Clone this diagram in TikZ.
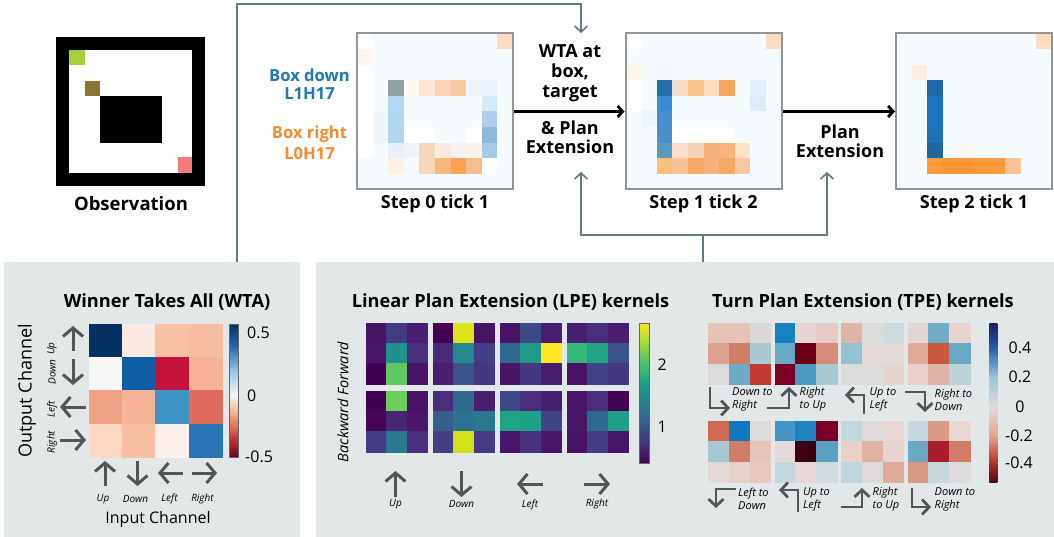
\documentclass[tikz,border=0pt]{standalone}
\usepackage{fontspec}
\setmainfont{Open Sans}
\usetikzlibrary{arrows.meta}
\definecolor{fbc}{HTML}{5E7C82}
\definecolor{agray}{HTML}{555555}
\definecolor{bgray}{HTML}{8E9898}
\definecolor{panelbg}{HTML}{E1E8E7}
\definecolor{tblue}{HTML}{1F77B4}
\definecolor{torange}{HTML}{F58A2E}
\definecolor{gridbg}{HTML}{F6FBFE}
\definecolor{obsgreen}{HTML}{A6D13A}
\definecolor{obsolive}{HTML}{8A7535}
\definecolor{obspink}{HTML}{F47C7C}
\newcommand\hmap[5]{%
  \foreach \hc [count=\hk from 0] in {#5}{%
    \pgfmathtruncatemacro\hmR{\hk/#4}%
    \pgfmathtruncatemacro\hmC{\hk-\hmR*#4}%
    \definecolor{hmc}{HTML}{\hc}%
    \fill[hmc,draw=hmc,line width=0.3pt] ({#1+\hmC*#3},{#2+\hmR*#3}) rectangle ++(#3,#3);
  }}
\newcommand\sgrid[3]{%
  \fill[gridbg] (#1,#2) rectangle ++(156,156);
  \foreach \ca/\cb/\ch in {#3}{%
    \definecolor{hmc}{HTML}{\ch}%
    \fill[hmc] ({#1+\ca*15.6},{#2+\cb*15.6}) rectangle ++(15.6,15.6);
  }}
\newcommand\cbar[3]{%
  \foreach \ya/\yb/\ta/\tb in {#3}{%
    \definecolor{cbt}{HTML}{\ta}\definecolor{cbb}{HTML}{\tb}%
    \shade[top color=cbt,bottom color=cbb] (#1,\ya) rectangle ({#1+#2},{\yb+0.4});
  }}
\begin{document}
\begin{tikzpicture}[x=1pt,y=-1pt,
  stepbox/.style={draw=bgray,line width=2pt,minimum size=156pt,inner sep=0pt},
  panel/.style={fill=panelbg,inner sep=0pt,anchor=north west},
  lbl/.style={font=\fontsize{18}{20}\selectfont\bfseries,inner sep=0pt,align=center},
  ttl/.style={font=\fontsize{18.2}{20}\selectfont\bfseries,inner sep=0pt},
  itl/.style={font=\fontsize{10}{12}\selectfont\itshape,inner sep=0pt},
  til/.style={font=\fontsize{11}{13}\selectfont\itshape,inner sep=0pt,anchor=west,align=left},
  cbl/.style={font=\fontsize{16}{18}\selectfont,inner sep=0pt},
  dira/.style={draw=agray,line width=3pt,-{Straight Barb[length=8.5pt,width=20pt]}},
  turna/.style={draw=agray,line width=2.8pt,line join=miter,-{Straight Barb[length=7pt,width=15pt]}},
  fbl/.style={draw=fbc,line width=1.6pt},
  fba/.style={fbl,-{Straight Barb[length=6pt,width=13pt]}},
  blk/.style={draw=black,line width=2.8pt,-{Straight Barb[length=5pt,width=11pt]}},
]
\useasboundingbox (0,0) rectangle (1054,537);
\fill[white] (0,0) rectangle (1054,537);

% panels
\node[panel,minimum width=296pt,minimum height=275pt] (wtap) at (4,262) {};
\node[panel,minimum width=738pt,minimum height=275pt] (kp) at (316,262) {};

% observation
\fill[white] (69,50) rectangle (193,173);
\fill[obsgreen] (69,50) rectangle ++(15.5,15.5);
\fill[obsolive] (84.5,81) rectangle ++(15.5,15.5);
\fill[black] (100,96.5) rectangle (162,143);
\fill[obspink] (177.5,157.5) rectangle (193,173);
\node[draw=black,line width=13pt,minimum size=136pt,inner sep=0pt] (obs) at (130.5,111.5) {};
\node[lbl,font=\fontsize{18.5}{20}\selectfont\bfseries] (obsl) at (131,204) {Observation};

% step grids
\sgrid{357}{33.5}{9/0/FDDCBF,0/1/FEF5EE,2/2/F7F9FC,2/3/93A3A3,3/3/FDFAF5,4/3/FDE6D3,5/3/FBD3B4,6/3/F9C9A4,7/3/EEF4FA,8/3/EAF3FB,
2/4/B3D8F8,8/4/D4E8F7,1/5/EEF7FC,2/5/B3D5F0,8/5/AECEEB,1/6/EEF7FC,2/6/B3D5F0,3/6/FFFFFF,4/6/FFFFFF,7/6/FFFFFF,8/6/8CB9DC,
2/7/E8F1FA,3/7/EEF3F8,4/7/F6D5BE,5/7/FCEADF,6/7/F5F3F3,7/7/FDF3EA,8/7/A9CAE4,2/8/FEF1E5,4/8/F8D6BA,5/8/FBB67E,6/8/FBA352,7/8/F5BE8E,8/8/FFFFFF,
0/0/FFFFFF,0/2/FFFFFF,0/3/FFFFFF,0/4/FFFFFF,0/5/FFFFFF,0/6/FFFFFF,0/7/FFFFFF}
\sgrid{625.5}{33.5}{9/0/FDDCBF,0/2/FEF6EC,2/2/F2F7FC,2/3/1F6FAE,3/3/F5DCC6,4/3/FBC592,5/3/FCDCC1,6/3/F5A55F,7/3/F7F9FC,8/3/E0F2FD,
2/4/3A8AD6,8/4/DBEDFC,1/5/EEF6FB,2/5/4690D0,2/6/4A8ECE,3/6/FFFFFF,4/6/FFFFFF,5/6/FFFFFF,6/6/FFFFFF,
2/7/5B9BBF,3/7/F8DDCA,4/7/F6D1B4,5/7/F5B27A,6/7/F8B57C,7/7/FDE2C6,
2/8/FDC07A,3/8/F9C296,4/8/F9A964,5/8/F6B27C,6/8/F6A866,7/8/F9C8A0,0/0/FFFFFF,0/3/FFFFFF,0/4/FFFFFF}
\sgrid{896}{33.5}{9/0/FDDCBF,1/2/FDEEE3,2/3/1E69AC,2/4/1B74C2,2/5/1B74C2,2/6/1E70B8,2/7/22669F,4/7/FDF6F1,
2/8/FD9A3A,3/8/FD9432,4/8/FC9533,5/8/FC9938,6/8/FD9B3C,7/8/FCC394}
\node[stepbox] (s0) at (435,111.5) {};
\node[stepbox] (s1) at (703.5,111.5) {};
\node[stepbox] (s2) at (974,111.5) {};
\node[lbl] (s0l) at (435,204) {Step 0 tick 1};
\node[lbl] (s1l) at (703.5,204) {Step 1 tick 2};
\node[lbl] (s2l) at (974,204) {Step 2 tick 1};

\node[lbl,text=tblue,font=\fontsize{16.6}{18}\selectfont\bfseries] (bdown) at (309.5,84) {Box down\\L1H17};
\node[lbl,text=torange,font=\fontsize{16.6}{21}\selectfont\bfseries] (bright) at (309.5,142.5) {Box right\\L0H17};

\node[lbl] (wtaat) at (570,73.5) {WTA at\\box,\\target};
\node[lbl,font=\fontsize{18}{19}\selectfont\bfseries] (pe1l) at (570,137.5) {\& Plan\\Extension};
\node[lbl,font=\fontsize{18}{19}\selectfont\bfseries] (pe2l) at (840,141) {Plan\\Extension};

\draw[blk] (s0.east) -- (s1.west);
\draw[blk] (s1.east) -- (s2.west);

% feedback connectors
\coordinate (wtaout) at (237,262);
\coordinate (wtain) at (581,33);
\draw[fba] (wtaout) -- (237,4) -| (wtain);
\coordinate (kout) at (703,262);
\coordinate (kj) at (703,235);
\coordinate (pe1) at (581,172);
\coordinate (pe2) at (827,172);
\draw[fbl] (kout) -- (kj);
\draw[fba] (kj) -| (pe1);
\draw[fba] (kj) -| (pe2);

% WTA panel
\node[ttl] (wtat) at (167,302) {Winner Takes All (WTA)};
\hmap{89}{324}{33.25}{4}{053061,FBE9E0,F8C0A5,F8BDA1,F7F7F7,0F5DA3,C4133A,F6B396,EEA283,F6B396,3D93C3,E06B5B,FBD7C4,F8BFA3,FBF0EA,2A76B5}
\cbar{229}{9}{324/345/053061/2166AC,345/370/2166AC/92C5DE,370/395/92C5DE/F7F7F7,395/415/F7F7F7/F4A582,415/437/F4A582/C43C3C,437/457/C43C3C/67001F}
\draw[draw=gray!80!black,line width=0.8pt] (229,324) rectangle (238,457);
\node[cbl,anchor=west] (w05) at (247,333) {0.5};
\node[cbl,anchor=west] (w0) at (247,396) {0};
\node[cbl,anchor=west] (wm05) at (245,456.5) {-0.5};
\draw[dira] (73,351) -- (73,326);
\draw[dira] (73,359) -- (73,385);
\draw[dira] (86,407) -- (60,407);
\draw[dira] (60,440) -- (86,440);
\draw[dira] (105,486) -- (105,461);
\draw[dira] (137.5,461) -- (137.5,486);
\draw[dira] (183,473) -- (158,473);
\draw[dira] (192,473) -- (217,473);
\node[itl,rotate=90] (wu) at (52,348.5) {Up};
\node[itl,rotate=90] (wd) at (52,372) {Down};
\node[itl,rotate=90] (wl) at (52,409) {Left};
\node[itl,rotate=90] (wr) at (52,442) {Right};
\node[itl] (cu) at (103,499) {Up};
\node[itl] (cd) at (135.5,499) {Down};
\node[itl] (cl) at (169.5,499) {Left};
\node[itl] (cr) at (202.5,499) {Right};
\node[font=\fontsize{18}{20}\selectfont,inner sep=0pt,rotate=90] (oc) at (27,391) {Output Channel};
\node[font=\fontsize{16}{18}\selectfont,inner sep=0pt] (ic) at (158,519) {Input Channel};

% LPE
\node[ttl] (lpet) at (510.5,302) {Linear Plan Extension (LPE) kernels};
\hmap{366}{322.7}{20.4}{3}{471365,443A83,481F70,481769,21918C,472D7B,440154,5EC962,471365}
\hmap{433}{322.7}{20.4}{3}{440154,DDE318,471365,472A7A,23898E,433E85,481F70,3B528B,453781}
\hmap{500}{322.7}{20.4}{3}{471365,3E4989,481F70,31688E,1F9A8A,FDE725,471365,453781,481F70}
\hmap{567}{322.7}{20.4}{3}{471D6F,472D7B,481F70,35B779,20A386,3B528B,471365,424086,453781}
\hmap{366}{390.7}{20.4}{3}{440154,6CCD5A,471365,450559,482475,481769,433E85,2A788E,472D7B}
\hmap{433}{390.7}{20.4}{3}{472D7B,31688E,481F70,355F8D,2C728E,2A788E,433E85,D0E11C,443A83}
\hmap{500}{390.7}{20.4}{3}{3E4989,472D7B,481F70,20A386,1FA187,414487,481769,46327E,481769}
\hmap{567}{390.7}{20.4}{3}{481769,472D7B,440154,481769,31688E,1FA187,471365,433E85,481769}
\cbar{639.3}{10}{323/343/FDE725/A0DA39,343/363/A0DA39/4AC16D,363/383/4AC16D/1FA187,383/403/1FA187/277F8E,403/423/277F8E/365C8D,423/443/365C8D/46327E,443/463/46327E/440154}
\draw[draw=gray!80!black,line width=0.6pt] (639.3,323) rectangle (649.3,463.3);
\node[cbl,anchor=west] (l2) at (657.5,365) {2};
\node[cbl,anchor=west] (l1) at (657.5,426.7) {1};
\node[font=\fontsize{14.5}{16}\selectfont\itshape,inner sep=0pt,rotate=90] (bf) at (343,402) {Backward Forward};
\draw[dira] (395.5,497) -- (395.5,471);
\draw[dira] (461.5,471) -- (461.5,497);
\draw[dira] (543,484) -- (517,484);
\draw[dira] (584,484) -- (610,484);
\node[itl] (lu) at (395.5,504) {Up};
\node[itl] (ld) at (461.5,504) {Down};
\node[itl] (ll) at (530,505) {Left};
\node[itl] (lr) at (597,504) {Right};

% TPE
\node[ttl] (tpet) at (863,302) {Turn Plan Extension (TPE) kernels};
\hmap{708.5}{322.7}{20.6}{3}{E5C3B8,E5C3B8,DCD7D7,DCA391,D07E67,A9C9D3,DCDBDB,6FABC7,C23A2F}
\hmap{775}{322.7}{20.6}{3}{1682C2,E5D6D3,E5CBC5,6AA9C4,6A0018,D48C78,7A0025,4A9BC1,A9C9D3}
\hmap{841.5}{322.7}{20.6}{3}{E0B6A8,DDDADA,CFDADF,92C1D2,E2D9D8,E2D9D8,DCDBDB,DCDBDB,E5D3D0}
\hmap{908}{322.7}{20.6}{3}{E2D5D3,6FAEC6,E8D5D0,E0AB9A,C9583D,66A8C6,E9D1CE,E0B4A6,BCD3DA}
\hmap{708.5}{420.7}{20.6}{3}{D06A50,0F78BF,DCDBDB,A6C8D3,D27E66,E5C5BC,E2D9D8,E8D0CC,E7C9C1}
\hmap{775}{420.7}{20.6}{3}{4396C3,2084C1,7A0025,E2D9D8,3C0010,5AA2C4,C4D7DE,E5D8D7,D2DBDF}
\hmap{841.5}{420.7}{20.6}{3}{C3D7DE,DDDADA,E7D6D3,E8D1CB,E0B2A4,E8D4D0,C0D6DE,DEDAD9,DFAC9B}
\hmap{908}{420.7}{20.6}{3}{C9D8DE,D99B85,E7D6D3,6AA9C4,A71D2A,D27E66,D89A82,C5D8DE,DDDBDB}
\cbar{989.3}{8}{323/348/1C1B5B/2A5CAA,348/377/2A5CAA/9CC6D9,377/407/9CC6D9/E0DCDB,407/436/E0DCDB/E2A38E,436/463/E2A38E/B42B2C,463/482/B42B2C/4C0A18}
\node[cbl] (t04) at (1020,348.3) {0.4};
\node[cbl] (t02) at (1020,377.3) {0.2};
\node[cbl] (t0) at (1020,406.7) {0};
\node[cbl] (tm02) at (1019,436) {-0.2};
\node[cbl] (tm04) at (1019,463.3) {-0.4};
% turn arrows top row
\draw[turna] (710,387) -- (710,408) -- (730,408);
\draw[turna] (767,408) -- (789,408) -- (789,387);
\draw[turna] (864,414) -- (864,395) -- (845,395);
\draw[turna] (905,392) -- (925,392) -- (925,412);
\node[til] (t1l) at (732,399.5) {Down to\\Right};
\node[til] (t2l) at (799.5,399.5) {Right\\to Up};
\node[til] (t3l) at (869.5,399.5) {Up to\\Left};
\node[til] (t4l) at (934.5,399.5) {Right to\\Down};
% turn arrows bottom row
\draw[turna] (736,489) -- (716,489) -- (716,508);
\draw[turna] (798,512) -- (798,490) -- (779,490);
\draw[turna] (841,507) -- (862,507) -- (862,488);
\draw[turna] (912,488) -- (912,507) -- (931,507);
\node[til] (b1l) at (738,499) {Left to\\Down};
\node[til] (b2l) at (803,499) {Up to\\Left};
\node[til] (b3l) at (872.5,499) {Right\\to Up};
\node[til] (b4l) at (934.5,499) {Down to\\Right};
\end{tikzpicture}
\end{document}
